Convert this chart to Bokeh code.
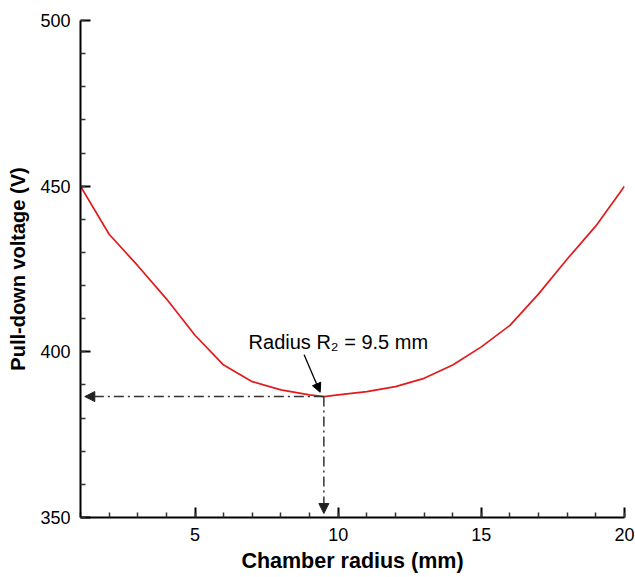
from bokeh.plotting import figure
from bokeh.models import (Range1d, SingleIntervalTicker, Arrow, NormalHead, Label)
from bokeh.embed import file_html
from bokeh.resources import INLINE

# data
radius_mm = [1, 2, 3, 4, 5, 6, 7, 8, 9, 9.5, 10, 11, 12, 13, 14, 15, 16, 17, 18, 19, 20]
voltage_v = [450, 435.5, 426, 416, 405, 396, 391, 388.5, 387, 386.5, 387, 388, 389.5,
             392, 396, 401.5, 408, 417.5, 428, 438, 450]
r2_mm = 9.5
v_min = 386.5
label_text = "Radius R\u2082 = 9.5 mm"
x_title = "Chamber radius (mm)"
y_title = "Pull-down voltage (V)"

FONT = "Liberation Sans"

p = figure(width=635, height=577, output_backend="svg", toolbar_location=None,
           x_range=Range1d(1, 20), y_range=Range1d(350, 500),
           min_border_left=80, min_border_top=20, min_border_right=11,
           min_border_bottom=60)
p.outline_line_color = None
p.xgrid.grid_line_color = None
p.ygrid.grid_line_color = None
p.background_fill_color = "white"
p.border_fill_color = "white"

p.xaxis.ticker = SingleIntervalTicker(interval=5, num_minor_ticks=5)
p.yaxis.ticker = SingleIntervalTicker(interval=50, num_minor_ticks=5)

for ax in (p.xaxis, p.yaxis):
    ax.axis_line_width = 2
    ax.axis_line_color = "black"
    ax.major_tick_in = 10
    ax.major_tick_out = 0
    ax.minor_tick_in = 5
    ax.minor_tick_out = 0
    ax.major_tick_line_width = 2
    ax.minor_tick_line_width = 1.5
    ax.major_tick_line_color = "black"
    ax.minor_tick_line_color = "#333333"
    ax.major_label_text_font = FONT
    ax.major_label_text_font_size = "18px"
    ax.major_label_text_color = "black"
    ax.major_label_standoff = 10
    ax.axis_label_text_font = FONT
    ax.axis_label_text_font_style = "bold"
    ax.axis_label_text_color = "black"

p.xaxis.axis_label = x_title
p.yaxis.axis_label = y_title
p.xaxis.axis_label_text_font_size = "21.5px"
p.yaxis.axis_label_text_font_size = "20px"
p.xaxis.axis_label_standoff = 5
p.yaxis.axis_label_standoff = 8

p.line(radius_mm, voltage_v, line_color="#e31a1c", line_width=1.7)

# dash-dot guide arrows
p.add_layout(Arrow(end=NormalHead(size=10, fill_color="#222222", line_color="#222222"),
                   x_start=r2_mm, y_start=v_min, x_end=1.15, y_end=v_min,
                   line_color="#333333", line_width=1.5, line_dash="10 4 2 4"))
p.add_layout(Arrow(end=NormalHead(size=10, fill_color="#222222", line_color="#222222"),
                   x_start=r2_mm, y_start=v_min, x_end=r2_mm, y_end=351.2,
                   line_color="#333333", line_width=1.5, line_dash="10 4 2 4"))

# pointer arrow
p.add_layout(Arrow(end=NormalHead(size=9, fill_color="black", line_color="black"),
                   x_start=8.81, y_start=399.1, x_end=9.37, y_end=387.8,
                   line_color="black", line_width=1.3))

p.add_layout(Label(x=6.87, y=402.9, text=label_text, text_font=FONT,
                   text_font_size="20px", text_color="black",
                   text_baseline="alphabetic", text_align="left"))

open("out.html", "w").write(file_html(p, INLINE))
